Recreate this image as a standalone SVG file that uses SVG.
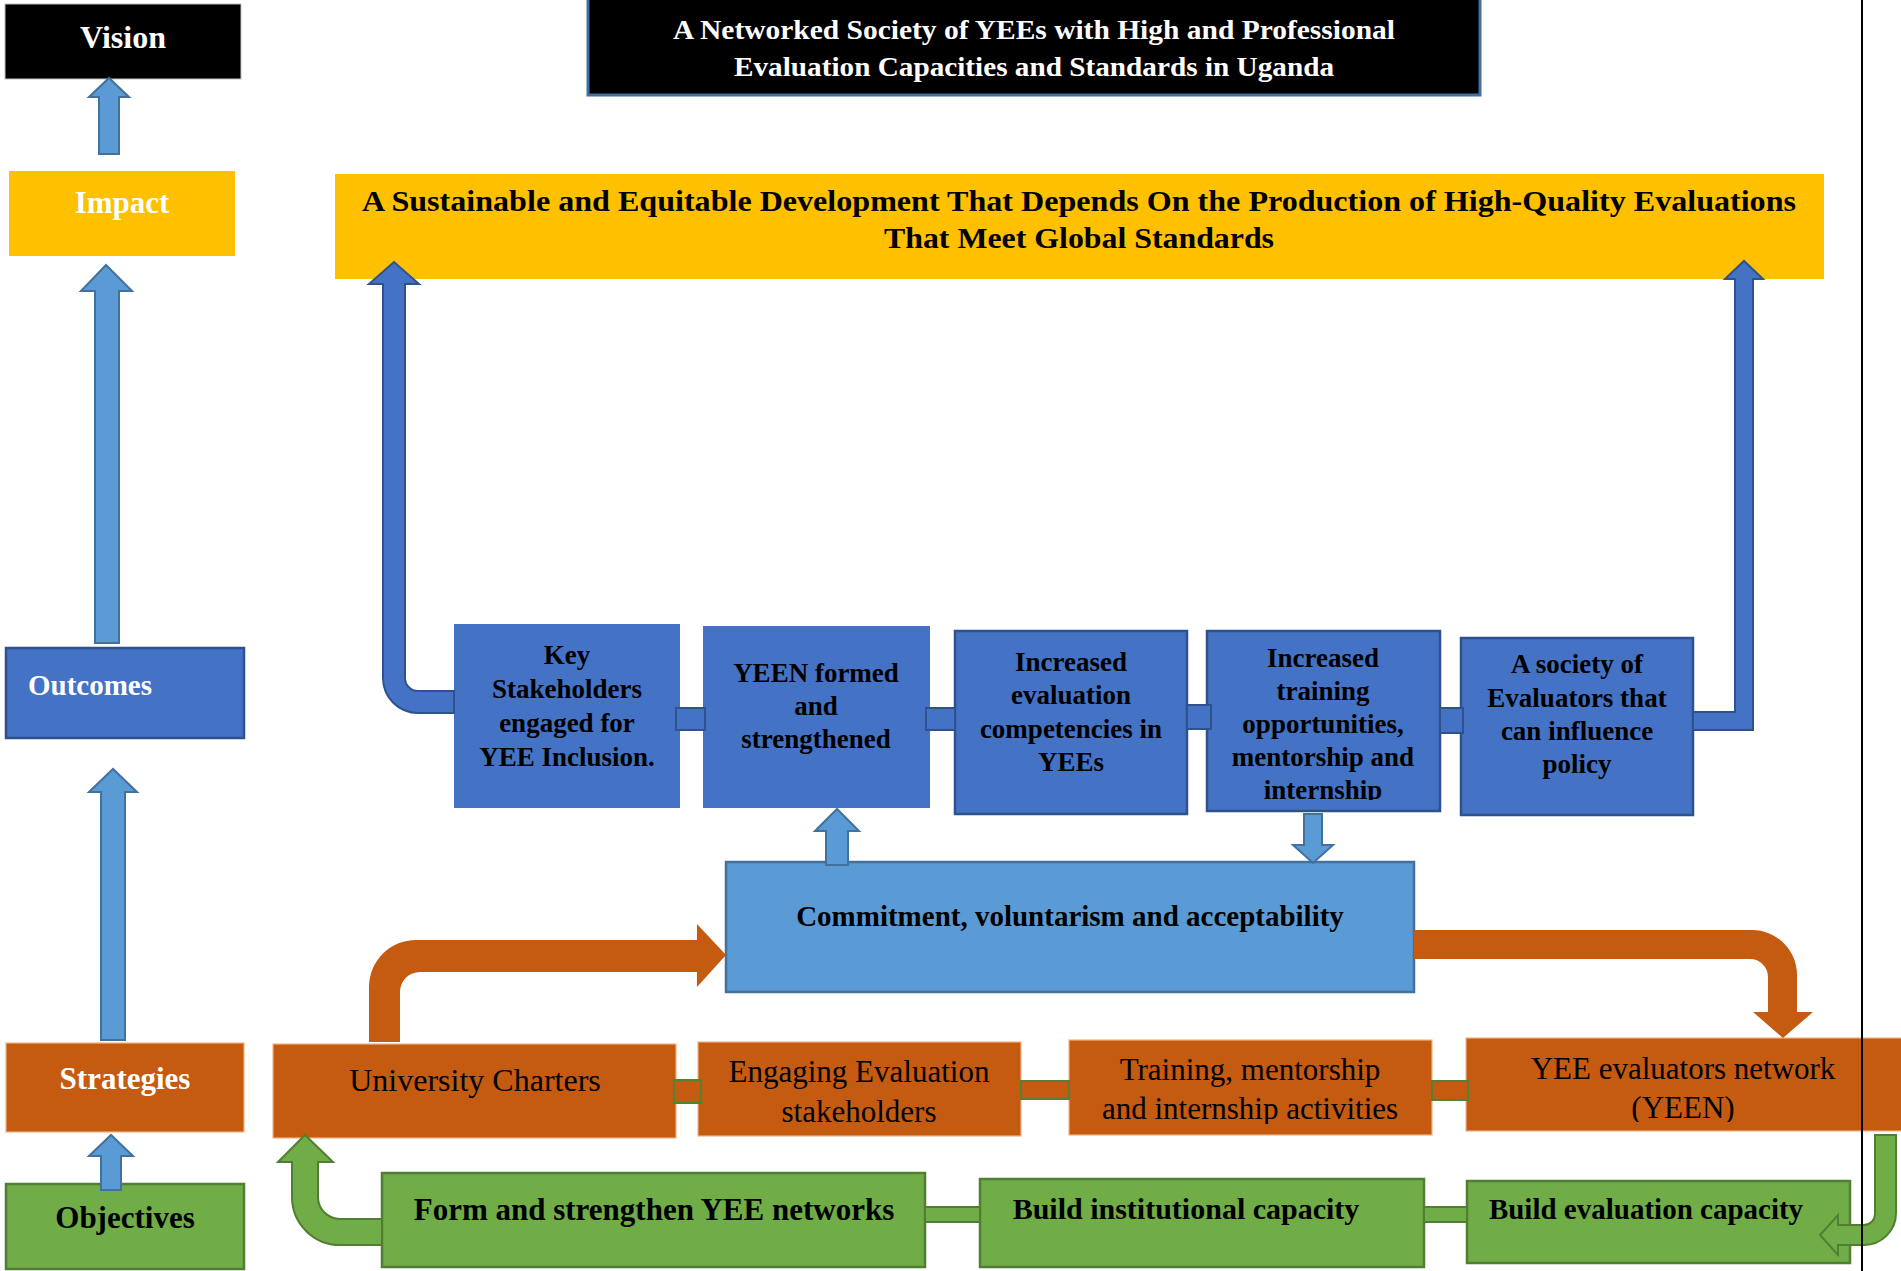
<svg xmlns="http://www.w3.org/2000/svg" width="1901" height="1271" viewBox="0 0 1901 1271">
<style>
.t{font-family:"Liberation Serif","Times New Roman",serif;}
.b{font-weight:bold;}
.c{text-anchor:middle;}
.w{fill:#ffffff;}
.k{fill:#000000;}
.dblue{fill:#4472C4;}
.dbs{stroke:#2F528F;stroke-width:2.5;}
.lblue{fill:#5B9BD5;stroke:#41719C;stroke-width:2.5;}
.orange{fill:#C55A11;stroke:#F4B183;stroke-width:1.2;}
.green{fill:#70AD47;stroke:#507E32;stroke-width:2.5;}
.yellow{fill:#FFC000;}
.arr-l{fill:#5B9BD5;stroke:#41719C;stroke-width:2;}
.arr-d{fill:#4472C4;stroke:#2F528F;stroke-width:2;}
.arr-o{fill:#C55A11;}
.arr-g{fill:#70AD47;stroke:#507E32;stroke-width:2;}
.con-d{fill:#4472C4;stroke:#2F528F;stroke-width:2;}
.con-o{fill:#C55A11;stroke:#548235;stroke-width:2;}
.con-g{fill:#70AD47;stroke:#507E32;stroke-width:2;}
</style>
<defs>
<clipPath id="clip4"><rect x="1207" y="631" width="233" height="169"/></clipPath>
<clipPath id="clipT"><rect x="1069" y="1040" width="363" height="84"/></clipPath>
<clipPath id="clipY"><rect x="1466" y="1038" width="435" height="84"/></clipPath>
</defs>
<rect x="0" y="0" width="1901" height="1271" fill="#ffffff"/>

<g id="vision">
<rect x="5" y="4" width="236" height="75" fill="#000000" stroke="#bfbfbf" stroke-width="1"/>
<text class="t b c w" x="123" y="48" font-size="32">Vision</text>
</g>
<g id="vision-statement">
<rect x="588" y="-2" width="892" height="97" fill="#000000" stroke="#41719C" stroke-width="3"/>
<text class="t b c w" x="1034" y="39" font-size="27" textLength="722" lengthAdjust="spacingAndGlyphs">A Networked Society of YEEs with High and Professional</text>
<text class="t b c w" x="1034" y="76" font-size="27" textLength="600" lengthAdjust="spacingAndGlyphs">Evaluation Capacities and Standards in Uganda</text>
</g>
<g id="impact">
<rect class="yellow" x="9" y="171" width="226" height="85"/>
<text class="t b c w" x="122" y="213" font-size="31">Impact</text>
</g>
<g id="impact-statement">
<rect class="yellow" x="335" y="174" width="1489" height="105"/>
<text class="t b c k" x="1079" y="211" font-size="30" textLength="1434" lengthAdjust="spacingAndGlyphs">A Sustainable and Equitable Development That Depends On the Production of High-Quality Evaluations</text>
<text class="t b c k" x="1079" y="248" font-size="30" textLength="390" lengthAdjust="spacingAndGlyphs">That Meet Global Standards</text>
</g>
<g id="outcomes">
<rect class="dblue dbs" x="6" y="648" width="238" height="90"/>
<text class="t b w" x="28" y="695" font-size="29">Outcomes</text>
</g>
<g id="strategies">
<rect class="orange" x="6" y="1043" width="238" height="89"/>
<text class="t b c w" x="125" y="1089" font-size="31">Strategies</text>
</g>
<g id="objectives">
<rect class="green" x="6" y="1184" width="238" height="85"/>
<text class="t b c k" x="125" y="1228" font-size="31">Objectives</text>
</g>

<g id="outcome-1">
<rect class="dblue" x="454" y="624" width="226" height="184"/>
<text class="t b c k" font-size="27"><tspan x="567" y="664">Key</tspan><tspan x="567" y="698">Stakeholders</tspan><tspan x="567" y="732">engaged for</tspan><tspan x="567" y="766">YEE Inclusion.</tspan></text>
</g>
<g id="outcome-2">
<rect class="dblue" x="703" y="626" width="227" height="182"/>
<text class="t b c k" font-size="27"><tspan x="816" y="682">YEEN formed</tspan><tspan x="816" y="715">and</tspan><tspan x="816" y="748">strengthened</tspan></text>
</g>
<g id="outcome-3">
<rect class="dblue dbs" x="955" y="631" width="232" height="183"/>
<text class="t b c k" font-size="27"><tspan x="1071" y="671">Increased</tspan><tspan x="1071" y="704">evaluation</tspan><tspan x="1071" y="738">competencies in</tspan><tspan x="1071" y="771">YEEs</tspan></text>
</g>
<g id="outcome-4">
<rect class="dblue dbs" x="1207" y="631" width="233" height="180"/>
<text class="t b c k" font-size="27" clip-path="url(#clip4)"><tspan x="1323" y="667">Increased</tspan><tspan x="1323" y="700">training</tspan><tspan x="1323" y="733">opportunities,</tspan><tspan x="1323" y="766">mentorship and</tspan><tspan x="1323" y="799">internship</tspan></text>
</g>
<g id="outcome-5">
<rect class="dblue dbs" x="1461" y="638" width="232" height="177"/>
<text class="t b c k" font-size="27"><tspan x="1577" y="673">A society of</tspan><tspan x="1577" y="707">Evaluators that</tspan><tspan x="1577" y="740">can influence</tspan><tspan x="1577" y="773">policy</tspan></text>
</g>

<g id="commitment">
<rect class="lblue" x="726" y="862" width="688" height="130"/>
<text class="t b c k" x="1070" y="926" font-size="29">Commitment, voluntarism and acceptability</text>
</g>

<g id="strategy-1">
<rect class="orange" x="273" y="1044" width="403" height="94"/>
<text class="t c k" x="475" y="1091" font-size="32">University Charters</text>
</g>
<g id="strategy-2">
<rect class="orange" x="698" y="1042" width="323" height="94"/>
<text class="t c k" font-size="31"><tspan x="859" y="1082">Engaging Evaluation</tspan><tspan x="859" y="1122">stakeholders</tspan></text>
</g>
<g id="strategy-3">
<rect class="orange" x="1069" y="1040" width="363" height="95"/>
<text class="t c k" font-size="31" clip-path="url(#clipT)"><tspan x="1250" y="1080">Training, mentorship</tspan><tspan x="1250" y="1119">and internship activities</tspan></text>
</g>
<g id="strategy-4">
<rect class="orange" x="1466" y="1038" width="440" height="93"/>
<text class="t c k" font-size="31" clip-path="url(#clipY)"><tspan x="1683" y="1079">YEE evaluators network</tspan><tspan x="1683" y="1118">(YEEN)</tspan></text>
</g>

<g id="objective-1">
<rect class="green" x="382" y="1173" width="543" height="94"/>
<text class="t b c k" x="654" y="1220" font-size="31">Form and strengthen YEE networks</text>
</g>
<g id="objective-2">
<rect class="green" x="980" y="1179" width="444" height="88"/>
<text class="t b c k" x="1186" y="1219" font-size="30">Build institutional capacity</text>
</g>
<g id="objective-3">
<rect class="green" x="1467" y="1181" width="383" height="82"/>
<text class="t b c k" x="1646" y="1219" font-size="29">Build evaluation capacity</text>
</g>

<g id="connectors">
<path class="arr-l" d="M 99 154 L 99 97 L 89 97 L 109 78 L 129 97 L 119 97 L 119 154 Z"/>
<path class="arr-l" d="M 95 643 L 95 291 L 81 291 L 106 265 L 132 291 L 119 291 L 119 643 Z"/>
<path class="arr-l" d="M 101 1040 L 101 792 L 89 792 L 113 769 L 137 792 L 125 792 L 125 1040 Z"/>
<path class="arr-l" d="M 101 1190 L 101 1156 L 89 1156 L 111 1135 L 133 1156 L 121 1156 L 121 1190 Z"/>
<path class="arr-l" d="M 826 865 L 826 831 L 815 831 L 837 809 L 859 831 L 848 831 L 848 865 Z"/>
<path class="arr-l" d="M 1304 814 L 1304 845 L 1293 845 L 1313 863 L 1333 845 L 1322 845 L 1322 814 Z"/>
<path class="arr-d" d="M 454 691 L 418 691 A 13 13 0 0 1 405 678 L 405 284 L 419 284 L 394 262 L 369 284 L 383 284 L 383 678 A 35 35 0 0 0 418 713 L 454 713 Z"/>
<path class="arr-d" d="M 1693 712 L 1735 712 L 1735 279 L 1725 279 L 1744 261 L 1763 279 L 1753 279 L 1753 730 L 1693 730 Z"/>
<rect class="con-d" x="676" y="708" width="29" height="22"/>
<rect class="con-d" x="926" y="708" width="29" height="22"/>
<rect class="con-d" x="1187" y="705" width="24" height="24"/>
<rect class="con-d" x="1440" y="708" width="23" height="25"/>
<path class="arr-o" d="M 369 1042 L 369 987 A 47 47 0 0 1 416 940 L 697 940 L 697 924 L 726 955 L 697 987 L 697 972 L 420 972 A 20 20 0 0 0 400 992 L 400 1042 Z"/>
<path class="arr-o" d="M 1414 930 L 1752 930 A 45 45 0 0 1 1797 975 L 1797 1012 L 1813 1012 L 1783 1038 L 1753 1012 L 1768 1012 L 1768 977 A 18 18 0 0 0 1750 959 L 1414 959 Z"/>
<rect class="con-o" x="674" y="1080" width="27" height="23"/>
<rect class="con-o" x="1021" y="1081" width="48" height="18"/>
<rect class="con-o" x="1432" y="1081" width="36" height="19"/>
<path class="arr-g" d="M 382 1219 L 340 1219 A 22 22 0 0 1 318 1197 L 318 1162 L 333 1162 L 305 1135 L 278 1162 L 292 1162 L 292 1197 A 48 48 0 0 0 340 1245 L 382 1245 Z"/>
<path class="arr-g" d="M 1875 1135 L 1896 1135 L 1896 1213 A 32 32 0 0 1 1864 1245 L 1838 1245 L 1838 1255 L 1820 1235 L 1838 1215 L 1838 1225 L 1864 1225 A 11 11 0 0 0 1875 1214 Z"/>
<rect class="con-g" x="925" y="1207" width="55" height="15"/>
<rect class="con-g" x="1424" y="1207" width="43" height="15"/>
</g>

<line x1="1862" y1="0" x2="1862" y2="1271" stroke="#000000" stroke-width="2"/>
</svg>
